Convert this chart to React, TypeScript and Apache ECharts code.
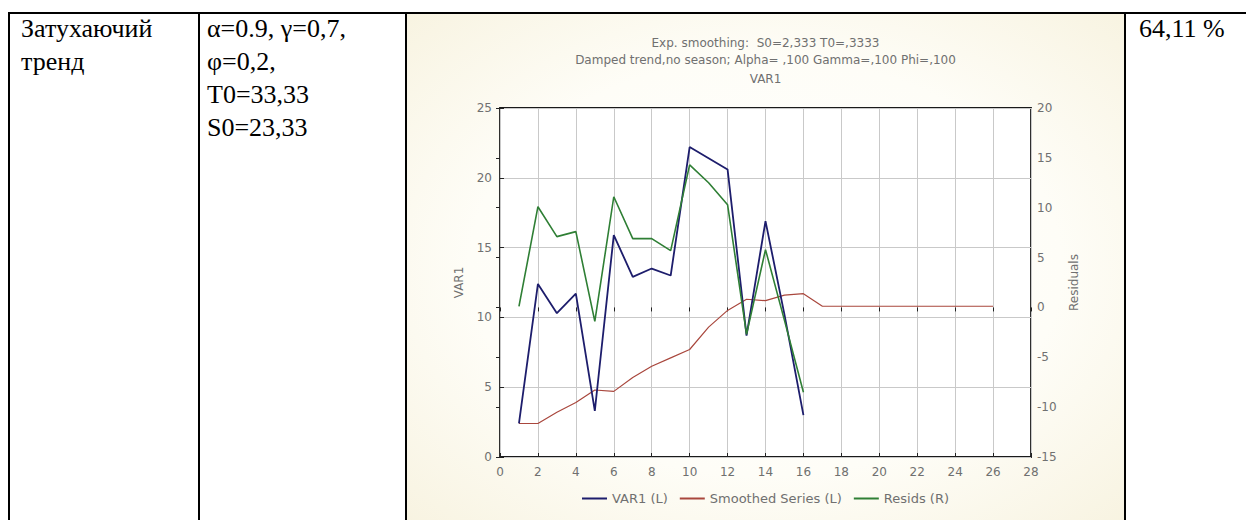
import React, { useEffect, useRef } from "react";
import * as echarts from "echarts";

// ---- data ----
const xTicks = [0, 2, 4, 6, 8, 10, 12, 14, 16, 18, 20, 22, 24, 26, 28];
const obsX = [1, 2, 3, 4, 5, 6, 7, 8, 9, 10, 11, 12, 13, 14, 15, 16];
const var1 = [2.4, 12.4, 10.3, 11.7, 3.3, 15.9, 12.9, 13.5, 13.0, 22.2, 21.4, 20.6, 8.7, 16.9, 10.2, 3.0];
const smoothX = [1, 2, 3, 4, 5, 6, 7, 8, 9, 10, 11, 12, 13, 14, 15, 16, 17, 18, 19, 20, 21, 22, 23, 24, 25, 26];
const smoothed = [2.4, 2.4, 3.2, 3.9, 4.8, 4.7, 5.7, 6.5, 7.1, 7.7, 9.3, 10.5, 11.3, 11.2, 11.6, 11.7, 10.8, 10.8, 10.8, 10.8, 10.8, 10.8, 10.8, 10.8, 10.8, 10.8];
const resids = [0.1, 10.1, 7.1, 7.6, -1.4, 11.1, 6.9, 6.9, 5.7, 14.3, 12.5, 10.3, -2.7, 5.8, -1.3, -8.5];

const titleLines = [
  "Exp. smoothing:  S0=2,333 T0=,3333",
  "Damped trend,no season; Alpha= ,100 Gamma=,100 Phi=,100",
  "VAR1",
];
const legendNames = ["VAR1 (L)", "Smoothed Series (L)", "Resids (R)"];
const col1Lines = ["Затухаючий", "тренд"];
const col2Lines = ["α=0.9, γ=0,7,", "φ=0,2,", "T0=33,33", "S0=23,33"];
const col4Text = "64,11 %";

const pair = (xs: number[], ys: number[]) => xs.map((x, i) => [x, ys[i]]);

const FONT = "DejaVu Sans";
const GRAY = "#707070";
const FS = 12;

function Chart() {
  const ref = useRef<HTMLDivElement>(null);
  useEffect(() => {
    if (!ref.current) return;
    const chart = echarts.init(ref.current, undefined, { renderer: "svg" });
    const tickStyle = { show: true, inside: true, length: 4, lineStyle: { color: "#222", width: 1 } };
    const label = { fontFamily: FONT, fontSize: FS, color: GRAY };
    chart.setOption({
      animation: false,
      backgroundColor: {
        type: "radial",
        x: 0.5,
        y: 0.5,
        r: 0.75,
        colorStops: [
          { offset: 0, color: "#ffffff" },
          { offset: 0.55, color: "#fefdf7" },
          { offset: 1, color: "#f7f2de" },
        ],
      },
      title: titleLines.map((t, i) => ({
        text: t,
        left: "center",
        top: [18, 35, 54][i],
        textStyle: { fontFamily: FONT, fontSize: FS, fontWeight: "normal", color: GRAY },
      })),
      legend: {
        top: 473,
        left: "center",
        icon: "rect",
        itemWidth: 25,
        itemHeight: 2,
        itemGap: 12,
        data: legendNames,
        textStyle: { ...label, fontSize: 13 },
      },
      grid: {
        left: 93,
        right: 93,
        top: 94,
        bottom: 63,
        show: true,
        backgroundColor: "#ffffff",
        borderColor: "#1a1a1a",
        borderWidth: 1.8,
      },
      xAxis: [
        {
          type: "value",
          min: 0,
          max: 28,
          interval: 2,
          axisLine: { show: false },
          axisTick: tickStyle,
          axisLabel: { margin: 9, ...label, customValues: xTicks },
          splitLine: { show: true, lineStyle: { color: "#c9c9c9", width: 1 } },
        },
        {
          type: "value",
          position: "top",
          min: 0,
          max: 28,
          interval: 2,
          axisLine: { show: false },
          axisTick: tickStyle,
          axisLabel: { show: false },
          splitLine: { show: false },
        },
      ],
      yAxis: [
        {
          type: "value",
          min: 0,
          max: 25,
          interval: 5,
          name: "VAR1",
          nameLocation: "middle",
          nameRotate: 90,
          nameGap: 35,
          nameTextStyle: label,
          axisLine: { show: false },
          axisTick: tickStyle,
          axisLabel: { margin: 8, ...label },
          splitLine: { show: true, lineStyle: { color: "#c9c9c9", width: 1 } },
        },
        {
          type: "value",
          position: "right",
          min: -15,
          max: 20,
          interval: 5,
          name: "Residuals",
          nameLocation: "middle",
          nameRotate: 90,
          nameGap: 37,
          nameTextStyle: label,
          axisLine: { show: false },
          axisTick: tickStyle,
          axisLabel: { margin: 6, ...label },
          splitLine: { show: false },
        },
      ],
      series: [
        {
          name: legendNames[0],
          type: "line",
          data: pair(obsX, var1),
          showSymbol: false,
          lineStyle: { color: "#1d1d6c", width: 1.8 },
          itemStyle: { color: "#1d1d6c" },
          z: 4,
        },
        {
          name: legendNames[1],
          type: "line",
          data: pair(smoothX, smoothed),
          showSymbol: false,
          lineStyle: { color: "#a9473d", width: 1.2 },
          itemStyle: { color: "#a9473d" },
          z: 3,
        },
        {
          name: legendNames[2],
          type: "line",
          yAxisIndex: 1,
          data: pair(obsX, resids),
          showSymbol: false,
          lineStyle: { color: "#2f7f35", width: 1.6 },
          itemStyle: { color: "#2f7f35" },
          z: 5,
        },
      ],
    });
    return () => chart.dispose();
  }, []);
  return (
    <div
      ref={ref}
      style={{ position: "absolute", left: 407, top: 14, width: 717, height: 506 }}
    />
  );
}

const textStyle: React.CSSProperties = {
  position: "absolute",
  fontFamily: "'Liberation Serif', 'Times New Roman', serif",
  fontSize: 26,
  lineHeight: "33px",
  color: "#000",
  whiteSpace: "nowrap",
};

export default function App() {
  const border = (l: number, t: number, w: number, h: number, key: string) => (
    <div key={key} style={{ position: "absolute", left: l, top: t, width: w, height: h, background: "#000" }} />
  );
  return (
    <div style={{ position: "absolute", left: 0, top: 0, width: 1246, height: 520, background: "#fff", overflow: "hidden" }}>
      <Chart />
      {border(8, 12, 1238, 2, "top")}
      {border(8, 12, 2, 508, "l")}
      {border(198, 12, 2, 508, "c1")}
      {border(405, 12, 2, 508, "c2")}
      {border(1124, 12, 2, 508, "c3")}
      <div style={{ ...textStyle, left: 21, top: 12 }}>
        {col1Lines.map((l) => (
          <div key={l}>{l}</div>
        ))}
      </div>
      <div style={{ ...textStyle, left: 207, top: 12 }}>
        {col2Lines.map((l) => (
          <div key={l}>{l}</div>
        ))}
      </div>
      <div style={{ ...textStyle, left: 1139, top: 12 }}>{col4Text}</div>
    </div>
  );
}
